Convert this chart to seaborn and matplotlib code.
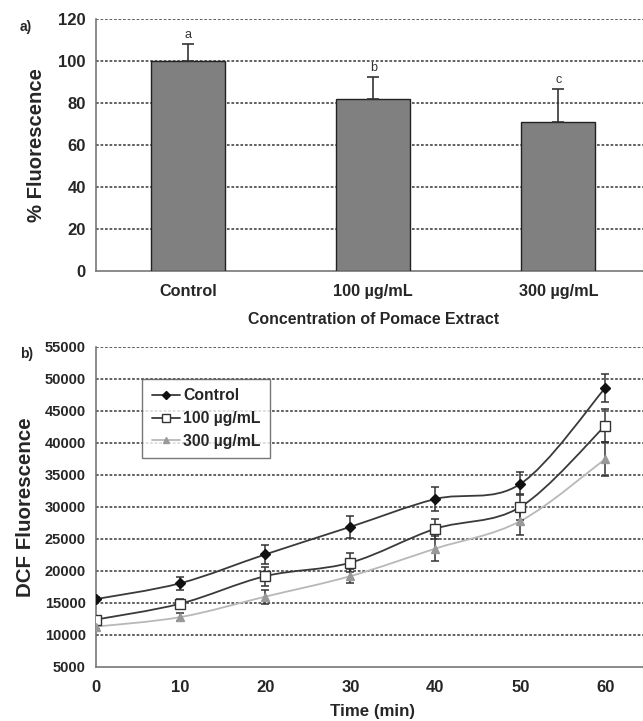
import numpy as np
import pandas as pd
import seaborn as sns
import matplotlib.pyplot as plt
from matplotlib.path import Path
from matplotlib.patches import PathPatch

# Panel a) data
categories = ['Control', '100 \u00b5g/mL', '300 \u00b5g/mL']
pct_fluor = [100, 82, 71]
pct_err = [8, 10.5, 15.5]
sig_letters = ['a', 'b', 'c']

# Panel b) data
time_min = [0, 10, 20, 30, 40, 50, 60]
control = [15600, 18100, 22600, 26900, 31250, 33600, 48600]
control_err = [300, 1000, 1500, 1700, 1800, 1800, 2200]
dose100 = [12400, 14900, 19200, 21300, 26600, 30000, 42700]
dose100_err = [300, 800, 1500, 1500, 1600, 2000, 2600]
dose300 = [11300, 12800, 16000, 19200, 23500, 27800, 37500]
dose300_err = [300, 600, 1100, 1150, 2000, 2200, 2600]

sns.set_style('white')
plt.rcParams['font.family'] = ['Liberation Sans', 'DejaVu Sans']
plt.rcParams['font.weight'] = 'bold'

fig = plt.figure(figsize=(6.43, 7.21), dpi=100)
W, H = 643, 721

grid_kw = dict(color='#555555', linestyle=(0, (1.5, 1)), linewidth=1.3)
spine_col = '#777777'

# ---------- panel a ----------
ax1 = fig.add_axes([95.5 / W, 1 - 271 / H, (651 - 95.5) / W, (271 - 19) / H])
df_a = pd.DataFrame({'cat': categories, 'val': pct_fluor})
sns.barplot(data=df_a, x='cat', y='val', color='#808080', width=0.4,
            edgecolor='#222222', linewidth=1.0, saturation=1, ax=ax1, zorder=3)
xpos = np.arange(len(categories))
ax1.errorbar(xpos, pct_fluor, yerr=[np.zeros(len(pct_err)), pct_err], fmt='none',
             ecolor='#333333', elinewidth=1.2, capsize=4, capthick=1.2, zorder=4)
for x, v, e, s in zip(xpos, pct_fluor, pct_err, sig_letters):
    ax1.text(x, v + e + 1.5, s, ha='center', va='bottom', fontsize=9,
             fontweight='normal', color='#333333')
ax1.set_xlim(-0.5, 2.5)
ax1.set_ylim(0, 120)
ax1.set_yticks(range(0, 121, 20))
for y in range(20, 121, 20):
    ax1.axhline(y, zorder=1, **grid_kw)
ax1.set_xticks([0.5, 1.5, 2.5], minor=True)
ax1.tick_params(axis='x', which='major', length=0, labelsize=11.7, pad=9)
ax1.tick_params(axis='x', which='minor', length=5, direction='out', color=spine_col)
ax1.tick_params(axis='y', length=4, direction='out', color=spine_col, labelsize=12, pad=3)
for lab in ax1.get_xticklabels() + ax1.get_yticklabels():
    lab.set_fontweight('bold')
ax1.set_xlabel('Concentration of Pomace Extract', fontsize=11.4, fontweight='bold', labelpad=10)
ax1.set_ylabel('% Fluorescence', fontsize=14.6, fontweight='bold', labelpad=9)
for side in ['top', 'right']:
    ax1.spines[side].set_visible(False)
for side in ['left', 'bottom']:
    ax1.spines[side].set_color(spine_col)
    ax1.spines[side].set_linewidth(1.2)
fig.text(20 / W, 1 - 31 / H, 'a)', fontsize=10, fontweight='bold')

# ---------- panel b ----------
ax2 = fig.add_axes([95.5 / W, 1 - 667 / H, (643 - 95.5) / W + 0.01, (667 - 347) / H])


def smooth_path(xs, ys):
    # Excel-style smoothed line through the data points (cubic Bezier segments)
    pts = np.column_stack([xs, ys]).astype(float)
    n = len(pts)
    verts = [pts[0]]
    codes = [Path.MOVETO]
    for i in range(n - 1):
        p0 = pts[i - 1] if i > 0 else pts[i]
        p1, p2 = pts[i], pts[i + 1]
        p3 = pts[i + 2] if i + 2 < n else pts[i + 1]
        c1 = p1 + (p2 - p0) / 6
        c2 = p2 - (p3 - p1) / 6
        verts += [c1, c2, p2]
        codes += [Path.CURVE4] * 3
    return Path(verts, codes)


series = [
    ('Control', control, control_err, '#3a3a3a', 'D', '#111111', '#111111', 5),
    ('100 \u00b5g/mL', dose100, dose100_err, '#3a3a3a', 's', 'white', '#333333', 7),
    ('300 \u00b5g/mL', dose300, dose300_err, '#b8b8b8', '^', '#999999', '#999999', 6),
]
rows = []
for name, vals, errs, *_ in series:
    for t, v in zip(time_min, vals):
        rows.append({'time': t, 'value': v, 'group': name})
df_b = pd.DataFrame(rows)

for y in range(10000, 55001, 5000):
    ax2.axhline(y, zorder=1, **grid_kw)

for name, vals, errs, lc, mk, mfc, mec, ms in series:
    ax2.add_patch(PathPatch(smooth_path(time_min, vals), facecolor='none',
                            edgecolor=lc, linewidth=1.3, zorder=3))
    ax2.errorbar(time_min, vals, yerr=errs, fmt='none', ecolor='#333333',
                 elinewidth=1.1, capsize=3, capthick=1.1, zorder=4)

for name, vals, errs, lc, mk, mfc, mec, ms in series:
    sub = df_b[df_b['group'] == name]
    sns.lineplot(data=sub, x='time', y='value', ax=ax2, linestyle='', marker=mk,
                 markersize=ms, markerfacecolor=mfc, markeredgecolor=mec,
                 markeredgewidth=1.0, zorder=5, legend=False)

ax2.set_xlim(0, 65.2)
ax2.set_ylim(5000, 55000)
ax2.set_xticks(time_min)
ax2.set_yticks(range(5000, 55001, 5000))
ax2.tick_params(axis='x', length=6, direction='inout', color=spine_col, labelsize=12, pad=6)
ax2.tick_params(axis='y', length=4, direction='out', color=spine_col, labelsize=10.5, pad=3)
for lab in ax2.get_xticklabels() + ax2.get_yticklabels():
    lab.set_fontweight('bold')
ax2.set_xlabel('Time (min)', fontsize=12.2, fontweight='bold', labelpad=6.5)
ax2.set_ylabel('DCF Fluorescence', fontsize=14.8, fontweight='bold', labelpad=7)
for side in ['top', 'right']:
    ax2.spines[side].set_visible(False)
for side in ['left', 'bottom']:
    ax2.spines[side].set_color(spine_col)
    ax2.spines[side].set_linewidth(1.2)

handles = []
for name, vals, errs, lc, mk, mfc, mec, ms in series:
    h, = ax2.plot([], [], color=lc, marker=mk, markersize=ms - 1,
                  markerfacecolor=mfc, markeredgecolor=mec, linewidth=1.3, label=name)
    handles.append(h)
leg = ax2.legend(handles=handles, loc='upper left', bbox_to_anchor=(0.07, 0.925),
                 frameon=True, fancybox=False, shadow=False, fontsize=11.3,
                 handlelength=1.8, handletextpad=0.2, borderpad=0.6, labelspacing=0.5)
leg.get_frame().set_edgecolor('#555555')
leg.get_frame().set_linewidth(1.0)
leg.set_zorder(6)
for t in leg.get_texts():
    t.set_fontweight('bold')
fig.text(20 / W, 1 - 358 / H, 'b)', fontsize=10, fontweight='bold')

fig.savefig('out.png', dpi=100)
